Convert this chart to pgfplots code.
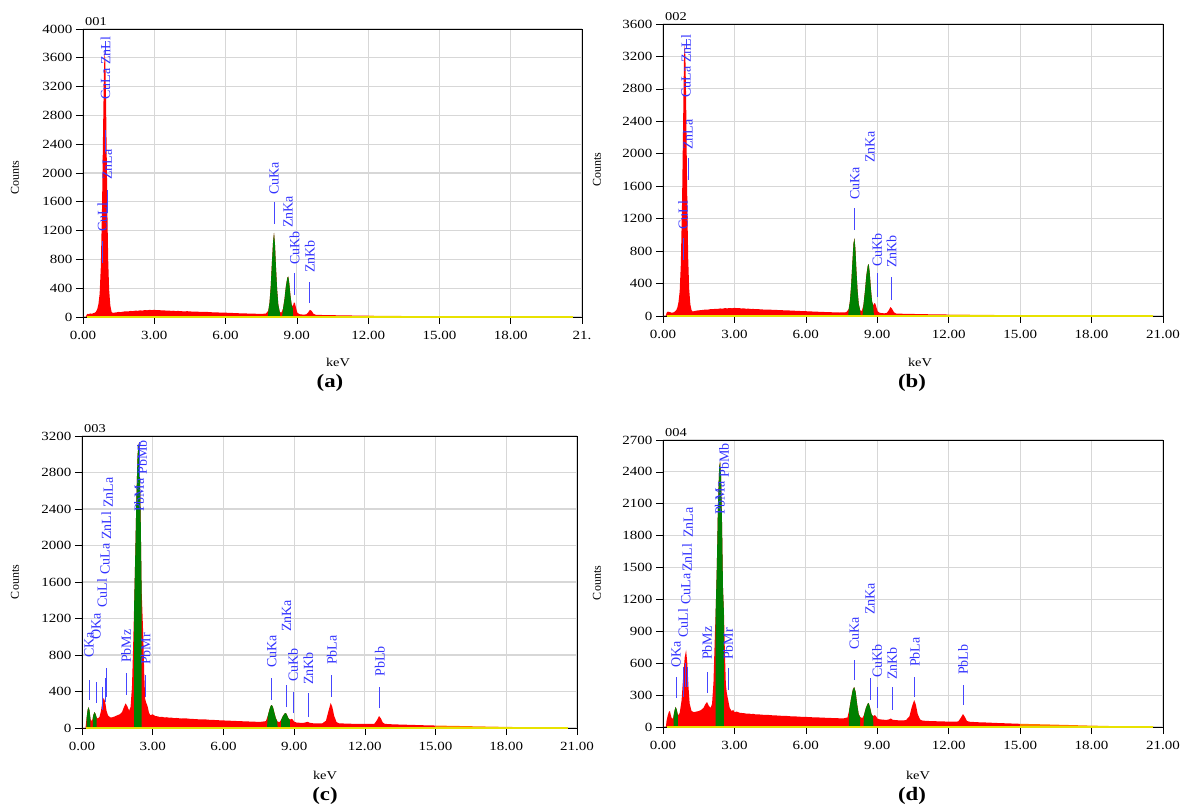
\documentclass[border=0pt]{standalone}
\usepackage{fontspec}
\setmainfont{Liberation Serif}
\newfontfamily\wide[FakeStretch=1.2]{Liberation Serif}
\usepackage{pgfplots}
\pgfplotsset{compat=1.18}
\definecolor{lblue}{RGB}{50,50,255}
\definecolor{lline}{RGB}{70,70,255}
\definecolor{edsred}{RGB}{255,0,0}
\definecolor{edsgreen}{RGB}{0,128,0}
\definecolor{edsyellow}{RGB}{232,226,0}
\definecolor{edsorange}{RGB}{255,120,0}
\definecolor{gridgray}{RGB}{215,215,215}

\pgfplotsset{
  eds/.style={
    scale only axis, anchor=south west,
    xmin=0, xmax=21, xtick={0,3,...,21}, ymin=0,
    xticklabels={0.00,3.00,6.00,9.00,12.00,15.00,18.00,21.00},
    grid=major, major grid style={gridgray, line width=1.1pt},
    tick align=outside, xtick pos=bottom, ytick pos=left,
    major tick length=7pt,
    tick style={black, line width=0.7pt},
    axis line style={black, line width=0.8pt},
    ticklabel style={font=\wide\fontsize{12.5}{13}\selectfont},
    xticklabel style={yshift=-4pt},
    /pgf/number format/assume math mode=true,
    /pgf/number format/1000 sep={},
    clip mode=individual,
  },
}
% peak marker: x, line from, line to, text start, name
\newcommand{\lab}[5]{%
  \draw[lline, line width=0.9pt] (axis cs:#1,#2) -- (axis cs:#1,#3);
  \node[lblue, rotate=90, anchor=west, inner sep=0pt, font=\fontsize{14}{15}\selectfont] at (axis cs:#1,#4) {#5};}
\newcommand{\txt}[3]{%
  \node[lblue, rotate=90, anchor=west, inner sep=0pt, font=\fontsize{14}{15}\selectfont] at (axis cs:#1,#2) {#3};}
\newcommand{\spid}[1]{\node[anchor=base west, inner sep=0pt, font=\wide\fontsize{12}{13}\selectfont] at ([xshift=2pt,yshift=3pt]rel axis cs:0,1) {#1};}
\newcommand{\base}{\draw[edsyellow, line width=1.8pt] (axis cs:0.15,0) -- (axis cs:20.6,0);}

\begin{document}
\begin{tikzpicture}
\useasboundingbox (0,0) rectangle (1185pt,808pt);

% ---------------- (a) ----------------
\begin{axis}[eds, at={(83pt,491pt)}, width=499pt, height=288pt,
  ymax=4000, ytick={0,400,...,4000},
  xticklabels={0.00,3.00,6.00,9.00,12.00,15.00,18.00,21.}]
\addplot[fill=edsred, draw=none] coordinates {
(0,0)(0.12,0)(0.15,30)(0.2,45)(0.25,38)(0.3,50)(0.35,44)(0.4,48)(0.45,55)(0.5,60)(0.55,75)(0.6,110)(0.65,180)(0.7,320)(0.75,700)(0.8,1500)(0.85,2700)(0.88,3400)(0.91,3680)(0.94,3550)(0.97,3000)(1.0,2200)(1.03,1400)(1.06,800)(1.1,380)(1.15,160)(1.2,75)(1.25,55)(1.3,60)(1.4,64)(1.5,70)(1.6,68)(1.7,75)(1.8,79)(1.9,77)(2.0,84)(2.1,82)(2.2,88)(2.3,86)(2.4,92)(2.5,89)(2.6,96)(2.7,93)(2.8,99)(2.9,95)(3.0,100)(3.1,94)(3.2,97)(3.3,91)(3.4,93)(3.5,88)(3.6,90)(3.7,85)(3.8,87)(3.9,82)(4.0,84)(4.2,79)(4.4,80)(4.6,75)(4.8,74)(5.0,70)(5.2,71)(5.4,66)(5.6,64)(5.8,61)(6.0,60)(6.2,56)(6.4,55)(6.6,51)(6.8,50)(7.0,47)(7.2,46)(7.4,43)(7.6,45)(7.7,48)(7.8,90)(7.85,200)(7.9,420)(7.95,750)(8.0,1050)(8.04,1170)(8.08,1000)(8.12,700)(8.17,380)(8.22,170)(8.28,70)(8.35,60)(8.42,120)(8.48,250)(8.54,430)(8.6,550)(8.64,560)(8.68,470)(8.73,300)(8.78,170)(8.83,150)(8.88,205)(8.92,190)(8.97,120)(9.02,60)(9.1,40)(9.2,35)(9.3,33)(9.4,38)(9.48,65)(9.55,100)(9.62,85)(9.7,45)(9.8,30)(10.0,28)(10.5,25)(11.0,22)(11.5,20)(12.0,18)(12.0,0)} \closedcycle;
\addplot[fill=edsorange, draw=none] coordinates {(12,18)(13,15)(14,12)(15,10)(16,8)(17,6)(18,5)(19,4)(20,3)(20.6,2)} \closedcycle;
\addplot[fill=edsgreen, draw=none] coordinates {(7.78,0)(7.8,90)(7.85,200)(7.9,420)(7.95,750)(8.0,1050)(8.04,1170)(8.08,1000)(8.12,700)(8.17,380)(8.22,170)(8.28,70)(8.3,0)} \closedcycle;
\addplot[fill=edsgreen, draw=none] coordinates {(8.38,0)(8.42,120)(8.48,250)(8.54,430)(8.6,550)(8.64,560)(8.68,470)(8.73,300)(8.78,170)(8.83,120)(8.85,0)} \closedcycle;
\base
\lab{0.81}{750}{1050}{1180}{CuLl}
\lab{1.03}{1444}{1764}{1903}{ZnLa}
\lab{0.95}{2292}{2597}{3014}{CuLa}
\lab{0.95}{3650}{3830}{3500}{ZnLl}
\lab{8.04}{1292}{1597}{1694}{CuKa}
\txt{8.63}{1236}{ZnKa}
\lab{8.9}{305}{611}{722}{CuKb}
\lab{9.55}{194}{486}{611}{ZnKb}
\spid{001}
\end{axis}

% ---------------- (b) ----------------
\begin{axis}[eds, at={(663pt,492pt)}, width=500pt, height=292pt,
  ymax=3600, ytick={0,400,...,3600}]
\addplot[fill=edsred, draw=none] coordinates {
(0,0)(0.12,0)(0.15,40)(0.2,55)(0.25,50)(0.3,48)(0.35,40)(0.4,42)(0.45,45)(0.5,55)(0.55,70)(0.6,100)(0.65,170)(0.7,300)(0.75,650)(0.8,1400)(0.85,2500)(0.88,3150)(0.91,3350)(0.94,3200)(0.97,2700)(1.0,1900)(1.03,1200)(1.06,700)(1.1,330)(1.15,140)(1.2,70)(1.25,55)(1.3,60)(1.4,66)(1.5,70)(1.6,72)(1.7,76)(1.8,80)(1.9,79)(2.0,85)(2.1,84)(2.2,89)(2.3,87)(2.4,93)(2.5,90)(2.6,97)(2.7,94)(2.8,98)(2.9,95)(3.0,100)(3.1,96)(3.2,98)(3.3,92)(3.4,94)(3.5,89)(3.6,90)(3.7,86)(3.8,87)(3.9,83)(4.0,84)(4.2,80)(4.4,80)(4.6,76)(4.8,74)(5.0,71)(5.2,70)(5.4,66)(5.6,64)(5.8,61)(6.0,59)(6.2,56)(6.4,54)(6.6,51)(6.8,49)(7.0,47)(7.2,45)(7.4,43)(7.6,44)(7.7,47)(7.8,85)(7.85,180)(7.9,370)(7.95,640)(8.0,890)(8.04,960)(8.08,830)(8.12,580)(8.17,320)(8.22,150)(8.28,70)(8.35,60)(8.42,140)(8.48,300)(8.54,500)(8.6,620)(8.64,640)(8.68,540)(8.73,340)(8.78,180)(8.83,130)(8.88,160)(8.92,150)(8.97,100)(9.02,55)(9.1,40)(9.2,35)(9.3,33)(9.4,38)(9.48,70)(9.55,110)(9.62,90)(9.7,45)(9.8,30)(10.0,28)(10.5,25)(11.0,22)(11.5,20)(12.0,18)(12.0,0)} \closedcycle;
\addplot[fill=edsorange, draw=none] coordinates {(12,18)(13,15)(14,12)(15,10)(16,8)(17,6)(18,5)(19,4)(20,3)(20.6,2)} \closedcycle;
\addplot[fill=edsgreen, draw=none] coordinates {(7.78,0)(7.8,85)(7.85,180)(7.9,370)(7.95,640)(8.0,890)(8.04,960)(8.08,830)(8.12,580)(8.17,320)(8.22,150)(8.28,70)(8.3,0)} \closedcycle;
\addplot[fill=edsgreen, draw=none] coordinates {(8.38,0)(8.42,140)(8.48,300)(8.54,500)(8.6,620)(8.64,640)(8.68,540)(8.73,340)(8.78,180)(8.83,120)(8.86,0)} \closedcycle;
\base
\lab{0.84}{690}{962}{1060}{CuLl}
\lab{1.05}{1677}{1948}{2047}{ZnLa}
\txt{0.97}{2688}{CuLa}
\lab{0.97}{3300}{3420}{3120}{ZnLl}
\lab{8.06}{1060}{1331}{1430}{CuKa}
\txt{8.7}{1887}{ZnKa}
\lab{8.99}{234}{530}{604}{CuKb}
\lab{9.6}{197}{481}{592}{ZnKb}
\spid{002}
\end{axis}

% ---------------- (c) ----------------
\begin{axis}[eds, at={(82pt,80pt)}, width=495pt, height=292pt,
  ymax=3200, ytick={0,400,...,3200}]
\addplot[fill=edsred, draw=none] coordinates {
(0,0)(0.15,0)(0.17,50)(0.2,120)(0.24,200)(0.28,230)(0.32,190)(0.36,100)(0.4,75)(0.44,90)(0.48,140)(0.53,175)(0.58,150)(0.63,110)(0.68,105)(0.74,120)(0.8,180)(0.86,280)(0.92,330)(0.98,290)(1.04,190)(1.1,140)(1.2,115)(1.3,118)(1.4,128)(1.5,140)(1.6,150)(1.7,175)(1.78,230)(1.85,270)(1.92,240)(2.0,190)(2.06,230)(2.12,450)(2.17,900)(2.21,1320)(2.26,1900)(2.31,2550)(2.36,3000)(2.41,3120)(2.45,2900)(2.49,2300)(2.53,1500)(2.56,1300)(2.6,1000)(2.64,600)(2.68,320)(2.72,280)(2.78,240)(2.84,170)(2.9,140)(3.0,150)(3.1,132)(3.2,128)(3.3,120)(3.4,122)(3.5,115)(3.6,118)(3.7,112)(3.8,114)(3.9,108)(4.0,110)(4.2,104)(4.4,106)(4.6,100)(4.8,98)(5.0,94)(5.2,95)(5.4,90)(5.6,88)(5.8,85)(6.0,83)(6.2,80)(6.4,79)(6.6,76)(6.8,74)(7.0,72)(7.2,70)(7.4,68)(7.6,68)(7.8,75)(7.88,130)(7.95,200)(8.0,240)(8.05,252)(8.1,230)(8.16,170)(8.22,110)(8.3,70)(8.38,65)(8.45,90)(8.52,130)(8.6,160)(8.65,164)(8.7,140)(8.76,105)(8.82,90)(8.88,100)(8.93,95)(9.0,70)(9.1,60)(9.2,58)(9.3,56)(9.4,57)(9.5,62)(9.57,68)(9.65,58)(9.8,52)(10.0,50)(10.2,52)(10.35,80)(10.45,180)(10.55,274)(10.62,230)(10.7,130)(10.8,65)(10.9,52)(11.2,48)(11.5,46)(11.8,45)(12.1,44)(12.4,46)(12.5,80)(12.6,131)(12.68,105)(12.76,60)(12.85,45)(13.2,40)(13.6,37)(14,34)(14.5,30)(15,27)(15,0)} \closedcycle;
\addplot[fill=edsorange, draw=none] coordinates {(15,27)(16,22)(17,17)(18,12)(19,8)(20,5)(20.6,3)} \closedcycle;
\addplot[fill=edsgreen, draw=none] coordinates {(0.2,0)(0.2,120)(0.24,200)(0.28,230)(0.32,190)(0.36,100)(0.36,0)} \closedcycle;
\addplot[fill=edsgreen, draw=none] coordinates {(0.46,0)(0.46,110)(0.48,140)(0.53,175)(0.58,150)(0.62,115)(0.62,0)} \closedcycle;
\addplot[fill=edsgreen, draw=none] coordinates {(2.21,0)(2.21,1320)(2.26,1900)(2.31,2550)(2.36,3000)(2.41,3120)(2.45,2900)(2.49,2300)(2.53,1500)(2.53,0)} \closedcycle;
\addplot[fill=edsgreen, draw=none] coordinates {(7.85,0)(7.88,130)(7.95,200)(8.0,240)(8.05,252)(8.1,230)(8.16,170)(8.22,110)(8.28,75)(8.3,0)} \closedcycle;
\addplot[fill=edsgreen, draw=none] coordinates {(8.45,0)(8.45,90)(8.52,130)(8.6,160)(8.65,164)(8.7,140)(8.76,105)(8.82,90)(8.82,0)} \closedcycle;
\base
\lab{0.3}{307}{526}{767}{CKa}
\lab{0.6}{274}{504}{964}{OKa}
\lab{0.85}{197}{449}{1315}{CuLl}
\lab{0.98}{285}{548}{1677}{CuLa}
\lab{1.03}{340}{658}{2060}{ZnLl}
\txt{1.12}{2411}{ZnLa}
\lab{1.87}{362}{603}{712}{PbMz}
\lab{2.42}{2750}{3130}{2367}{PbMa}
\txt{2.55}{2773}{PbMb}
\lab{2.7}{340}{581}{690}{PbMr}
\lab{8.05}{307}{548}{658}{CuKa}
\lab{8.68}{230}{471}{1052}{ZnKa}
\lab{8.95}{164}{395}{504}{CuKb}
\lab{9.6}{120}{384}{471}{ZnKb}
\lab{10.6}{340}{581}{690}{PbLa}
\lab{12.64}{219}{449}{560}{PbLb}
\spid{003}
\end{axis}

% ---------------- (d) ----------------
\begin{axis}[eds, at={(663pt,81pt)}, width=500pt, height=287pt,
  ymax=2700, ytick={0,300,...,2700}]
\addplot[fill=edsred, draw=none] coordinates {
(0,0)(0.12,0)(0.15,60)(0.2,110)(0.25,145)(0.29,150)(0.33,110)(0.38,75)(0.43,90)(0.48,150)(0.53,190)(0.58,160)(0.63,110)(0.7,130)(0.78,250)(0.85,480)(0.91,650)(0.97,725)(1.02,600)(1.07,380)(1.12,220)(1.2,150)(1.3,140)(1.4,145)(1.5,150)(1.6,160)(1.7,180)(1.78,215)(1.85,235)(1.92,200)(2.0,180)(2.06,220)(2.12,420)(2.17,800)(2.21,1070)(2.26,1500)(2.31,2100)(2.36,2450)(2.4,2500)(2.44,2350)(2.48,1900)(2.52,1300)(2.56,1070)(2.6,700)(2.64,400)(2.68,320)(2.74,250)(2.8,180)(2.88,150)(2.95,160)(3.0,140)(3.1,145)(3.2,135)(3.3,132)(3.4,130)(3.5,126)(3.6,127)(3.7,122)(3.8,123)(3.9,118)(4.0,119)(4.2,115)(4.4,114)(4.6,110)(4.8,108)(5.0,105)(5.2,104)(5.4,100)(5.6,99)(5.8,96)(6.0,95)(6.2,92)(6.4,91)(6.6,89)(6.8,87)(7.0,85)(7.2,84)(7.4,82)(7.6,82)(7.75,90)(7.82,160)(7.9,270)(7.97,350)(8.03,376)(8.09,330)(8.15,220)(8.22,120)(8.3,90)(8.38,85)(8.45,120)(8.52,180)(8.6,220)(8.64,226)(8.7,180)(8.76,120)(8.82,100)(8.88,112)(8.94,105)(9.0,80)(9.1,72)(9.2,70)(9.3,68)(9.4,67)(9.5,72)(9.57,80)(9.65,68)(9.8,64)(10.0,62)(10.2,64)(10.35,100)(10.45,190)(10.55,254)(10.62,210)(10.7,120)(10.8,70)(10.9,60)(11.2,56)(11.5,54)(11.8,52)(12.1,50)(12.4,52)(12.5,85)(12.6,122)(12.68,95)(12.76,58)(12.85,50)(13.2,45)(13.6,42)(14,38)(14.5,34)(15,30)(15,0)} \closedcycle;
\addplot[fill=edsorange, draw=none] coordinates {(15,30)(16,25)(17,19)(18,13)(19,8)(20,5)(20.6,3)} \closedcycle;
\addplot[fill=edsgreen, draw=none] coordinates {(0.45,0)(0.45,110)(0.48,150)(0.53,190)(0.58,160)(0.62,115)(0.62,0)} \closedcycle;
\addplot[fill=edsgreen, draw=none] coordinates {(2.21,0)(2.21,1070)(2.26,1500)(2.31,2100)(2.36,2450)(2.4,2500)(2.44,2350)(2.48,1900)(2.52,1300)(2.56,1070)(2.56,0)} \closedcycle;
\addplot[fill=edsgreen, draw=none] coordinates {(7.8,0)(7.82,160)(7.9,270)(7.97,350)(8.03,376)(8.09,330)(8.15,220)(8.22,120)(8.28,90)(8.28,0)} \closedcycle;
\addplot[fill=edsgreen, draw=none] coordinates {(8.42,0)(8.45,120)(8.52,180)(8.6,220)(8.64,226)(8.7,180)(8.76,120)(8.82,100)(8.84,0)} \closedcycle;
\base
\lab{0.55}{273}{470}{555}{OKa}
\lab{0.84}{282}{564}{837}{CuLl}
\lab{0.96}{376}{602}{1148}{CuLa}
\lab{1.01}{376}{560}{1458}{ZnLl}
\txt{1.06}{1778}{ZnLa}
\lab{1.85}{320}{517}{630}{PbMz}
\txt{2.39}{1994}{PbMa}
\txt{2.56}{2343}{PbMb}
\lab{2.73}{348}{555}{630}{PbMr}
\lab{8.03}{442}{630}{724}{CuKa}
\lab{8.7}{254}{461}{1054}{ZnKa}
\lab{8.99}{179}{376}{461}{CuKb}
\lab{9.62}{160}{376}{442}{ZnKb}
\lab{10.58}{282}{470}{564}{PbLa}
\lab{12.6}{207}{395}{489}{PbLb}
\spid{004}
\end{axis}

% ---------------- outer labels ----------------
\tikzset{ctl/.style={rotate=90, font=\fontsize{12}{13}\selectfont},
         kl/.style={font=\wide\fontsize{12}{13}\selectfont},
         pl/.style={font=\wide\bfseries\fontsize{19}{20}\selectfont}}
\node[ctl] at (15pt,630pt) {Counts};
\node[ctl] at (597pt,638pt) {Counts};
\node[ctl] at (15pt,226pt) {Counts};
\node[ctl] at (597pt,225pt) {Counts};
\node[kl] at (338pt,446pt) {keV};
\node[kl] at (920pt,446pt) {keV};
\node[kl] at (325pt,33pt) {keV};
\node[kl] at (918pt,33pt) {keV};
\node[pl] at (330pt,425pt) {(a)};
\node[pl] at (912pt,425pt) {(b)};
\node[pl] at (325pt,12pt) {(c)};
\node[pl] at (912pt,12pt) {(d)};
\end{tikzpicture}
\end{document}
